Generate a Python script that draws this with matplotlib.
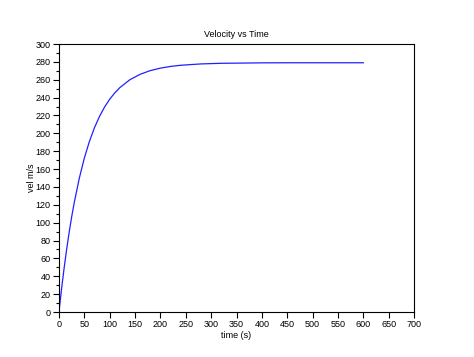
import matplotlib
matplotlib.use("Agg")
import matplotlib.pyplot as plt
from matplotlib.ticker import MultipleLocator

time_s = [0, 2, 5, 10, 15, 20, 25, 30, 40, 50, 60, 70, 80, 90, 100, 110, 120, 140,
          160, 180, 200, 220, 240, 280, 320, 370, 400, 450, 500, 550, 600]
vel = [0, 10.5, 25.6, 48.8, 69.8, 89.1, 106.6, 122.3, 149.7, 172.4, 191.0, 206.4,
       219.1, 229.6, 238.2, 245.3, 251.2, 260.1, 266.1, 270.2, 273.0, 274.9, 276.2,
       277.7, 278.4, 278.7, 278.9, 279.0, 279.0, 279.0, 279.0]

title = "Velocity vs Time"
xlabel = "time (s)"
ylabel = "vel m/s"

plt.rcParams['font.family'] = ['Liberation Sans', 'DejaVu Sans']

fig = plt.figure(figsize=(4.74, 3.57), dpi=100)
ax = fig.add_axes([59/474, 1 - 312/357, (414 - 59)/474, (312 - 44)/357])
ax.plot(time_s, vel, color='#2020ff', linewidth=0.9)

ax.set_xlim(0, 700)
ax.set_ylim(0, 300)
ax.xaxis.set_major_locator(MultipleLocator(50))
ax.yaxis.set_major_locator(MultipleLocator(20))
ax.yaxis.set_minor_locator(MultipleLocator(10))
ax.tick_params(axis='both', which='major', direction='out', length=4, width=0.8,
               labelsize=6.5, pad=2, colors='black')
ax.tick_params(axis='y', which='minor', direction='out', length=2.5, width=0.8)
for s in ax.spines.values():
    s.set_linewidth(0.8)

ax.set_title(title, fontsize=6.5, pad=5)
ax.set_xlabel(xlabel, fontsize=6.5, labelpad=1)
ax.set_ylabel(ylabel, fontsize=6.5, labelpad=-0.5)

fig.savefig("out.png", dpi=100)
